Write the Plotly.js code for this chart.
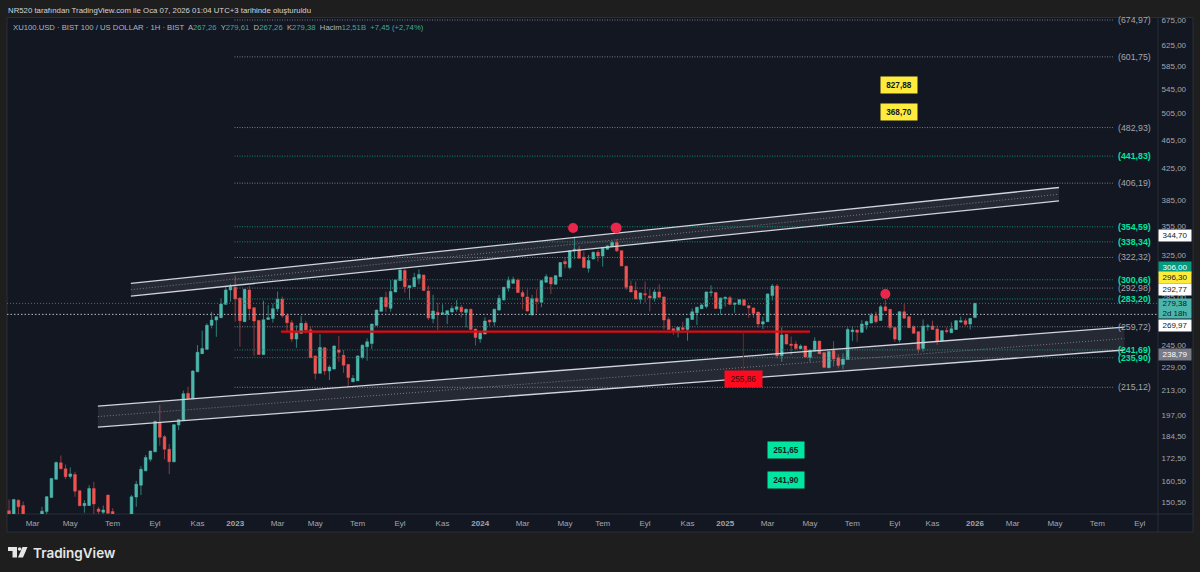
<!DOCTYPE html>
<html><head><meta charset="utf-8">
<script src="https://cdn.plot.ly/plotly-3.0.1.min.js"></script>
<style>html,body{margin:0;padding:0;background:#1e1e1e;overflow:hidden}#c{width:1200px;height:572px}</style>
</head><body><div id="c"></div>
<script>
const firstWeek = '2022-01-31';
const opens = [146.5,143,151.4,148.9,143,140,137,144.5,146.1,152.7,
161.6,170.1,166.9,163,164,155.9,148.8,148.9,157,147.3,
145.8,153.8,146.1,144,141,138,143,152.9,158.6,165.9,
171.9,176,192.7,184.4,177.4,170.6,191.3,194.3,211.1,207.6,
225.8,238.9,242.1,260.9,265.2,267.2,278.5,291.3,293.7,284.1,
263.9,291.3,275.6,264.9,238.2,265.7,266.6,274.8,283.2,269,
263.1,250,254.5,262.5,257.4,237.2,224.7,243.3,226.3,227.7,
241.6,237.7,231,218.9,219.6,236.1,244.1,246.6,260.9,272.5,
284.6,275.1,289.5,299.9,309.4,293.4,294.3,302,305.1,290.4,
266.3,271.6,270,270,271.9,274.2,276.1,271.6,274.2,257.9,
250,254,265.2,263.6,273.6,282.3,293.1,297.4,300.5,288.9,
285,269.4,283.8,280.3,298.4,302.9,296.5,303.6,318.2,312.3,
329,330.6,322.5,311.6,320.8,327.6,323.8,330.6,333.4,337.6,
329.2,313.6,294.9,290.7,282.9,287.9,285.9,283.8,289.5,285,
265.7,258.2,255.8,259,257.6,265.7,271.3,274.8,276.6,288.9,
288.9,274.8,283.5,284.4,278.5,278.5,282.6,277.4,275.4,271.9,
262,263.9,286.2,294.9,237.4,253.7,246.1,246.1,242.6,244.6,
236.1,240.9,248.4,239.6,228.7,241.4,235.9,231,234.7,255.8,
257.1,255.3,261.2,262.8,268.8,264.9,276.4,274.2,259.2,249.2,
272.2,268,259.8,255.8,242.8,259.8,260.4,257.9,248.4,256.8,
255,257.6,263.6,264.7,262,267.26];
const closes = [143,151.7,148.3,144,140,137,143,146.3,153,162,
170.2,166.9,162.8,164.3,155.7,148.8,149.9,157,149.6,146.1,
146.8,145.3,144,141,138,142,153,159.1,166.7,172.9,
176.4,193.4,184.2,177.4,170.6,191.5,194.5,210.9,207.6,226.3,
239.9,242.8,260.9,265.2,268,278.8,291.3,294.3,283.2,264.7,
291.9,274.8,264.4,238.3,265.5,267.2,274.8,283.2,268.8,263.1,
250,254.8,262.5,257.1,235.9,224.6,243.6,226.3,229.1,244.6,
239.9,230.5,221.8,221.2,237.2,245.3,247.9,261.9,273.6,284.6,
276.5,289.8,300.5,310,294.3,295.2,302.9,305.7,290.7,267,
272.8,269.7,271.3,273,275,276.4,272.2,274.2,257.6,251.3,
254.7,264.4,263.6,274.4,283.8,293.7,299.9,301.1,288.9,285.4,
272.8,283.5,280.9,299.9,303.6,296.8,304.5,317.2,315.9,329.2,
330.6,321.5,312.3,319.2,327.6,323.8,332.6,334.1,337.6,329,
313.9,293.7,289.5,283.2,288.6,286.9,284.1,289.5,284.7,265.2,
257.6,256.6,259.3,257.6,266.6,272.2,276,278,289.5,289.5,
275,284.1,284.7,278.5,279.7,282.6,277.7,275.4,270.8,262,
263.9,287.7,294.9,237.4,253.2,246.1,245.1,242.8,244.6,236.4,
241.6,248.4,238.9,228.9,240.4,234.9,230.3,234.9,257.6,257.1,
255.3,262,263.9,269.3,263.9,276.4,273,259.2,250,272.2,
266.8,259,254.5,242.1,260.4,260.4,257.6,248.4,256.6,255.8,
258.1,264.7,264.7,261.7,266.6,279.38];
const highs = [151.7,152,151.7,150.8,144,141,145,148.3,153.3,162.2,
170.8,174,169.2,167.6,165.4,156,151.4,158.6,160.3,148.3,
148.9,154,147.6,144.5,142,143,153.8,160.8,168.3,174.2,
176.5,194,203.5,185.4,180.3,192,195,212.9,215.5,227,
245.3,256.6,262.5,272.2,268.2,283.8,294.3,296.8,304.6,284.5,
292.2,294.9,276,265.2,281.7,277.9,279.4,289.8,285.3,270.7,
265.2,261,268.5,264.7,259.8,237.4,254,243.6,230.5,245.3,
252.3,241.6,231.2,223.5,237.4,245.5,250.5,262.1,273.9,285,
289.8,300.5,301,311,311.6,295.5,307.2,310.6,305.5,295.2,
286.9,280,278.5,273.2,277.5,282.3,278,275,275,258.1,
255.8,267.5,265.4,274.6,286.9,294,303.6,303.6,302,291.3,
291.9,286.9,291.9,300.2,306,303.1,305.1,317.5,322.5,329.5,
343.9,334.1,328.2,324.8,328.2,329.9,332.9,335.1,339.6,341.3,
329.5,313.9,299.9,299,288.8,299,291.9,291.9,296.5,285.3,
267.5,258.4,259.5,263.9,266.8,275,276.3,279.4,289.8,295.5,
289.2,284.3,285.4,286,279.9,282.9,282.9,277.6,275.6,272.1,
268,288,296.8,296.8,259.2,253.9,251.9,248.7,245.9,244.8,
241.8,251.4,248.6,239.8,240.6,248.4,238.6,239.1,259.2,259.8,
257.4,265.2,264.7,271.3,272.2,277.9,282.3,274.4,259.5,272.8,
278.8,268.2,261,256,265.7,262,264.7,260.9,256.8,259.2,
263.4,265.2,268,266.6,266.8,279.61];
const lows = [141,141,142,143,138,135,136,144,144.9,152.5,
161.4,166.7,161.6,161.9,153,148.6,145.6,148.7,145,144.9,
144.9,145,143,139,136,137,141,148.3,153.8,165.6,
170.6,175.8,179.3,171.9,164.2,170.4,188.3,194,207.4,207.4,
225.6,238.7,241.8,258.4,251.7,267,278.3,280.8,263.9,244.1,
263.7,265.2,237.4,238,238,265.5,263.1,272.2,267.1,255.8,
247.9,243.3,254.3,254.5,235.7,220.5,224.5,223.5,220,227.5,
233,225.1,215.5,218.7,219.4,234.7,233.7,242.4,260.7,272,
272.2,272.2,289.2,299.7,288.9,282.3,294.1,296.5,290.5,265.2,
262.5,257.1,269.8,261.9,271.7,272.2,267.2,259.3,257.4,244.9,
247.1,253.8,260.4,260.4,273.4,282.1,289.9,297.2,288.7,274.2,
272.2,269.2,271.3,276,298.2,287.6,296.3,303.4,311.6,310.6,
320.5,321.2,312,307.5,320.5,318.2,313.2,330.4,333.2,327.6,
313.7,291.3,289.3,283,278.8,280,272.5,280.9,284.5,257.6,
257.1,253.2,251.3,257.4,248.7,265.5,261.2,274.6,275,285.4,
274.8,269.7,276.6,278.3,271.3,278.3,277.5,267.1,267.1,259.2,
257.9,263.7,281.7,235.4,233,245.9,238,241.6,242.4,236.2,
233,240.7,238.7,228.7,228.2,229.5,228.2,227.7,234.5,248.4,
247.9,255.1,257.6,262.5,262.5,264.7,272.8,257.1,247.9,247.4,
266.6,258.8,254.3,239.6,240.4,256.6,257.4,245.3,247.9,254.5,
254.8,257.4,263.1,260.4,257.6,267.26];

const priceTicks = [675,625,585,545,505,465,425,385,355,325,285,245,229,213,197,184.5,172.5,160.5,150.5];
const monthDates = ['2022-03-07','2022-05-02','2022-07-04','2022-09-05','2022-11-07','2023-01-02','2023-03-06','2023-05-01','2023-07-03','2023-09-04','2023-11-06','2024-01-01','2024-03-04','2024-05-06','2024-07-01','2024-09-02','2024-11-04','2024-12-30','2025-03-03','2025-05-05','2025-07-07','2025-09-08','2025-11-03','2026-01-05','2026-03-02','2026-05-04','2026-07-06','2026-09-07'];
const monthLabels = ['Mar','May','Tem','Eyl','Kas','2023','Mar','May','Tem','Eyl','Kas','2024','Mar','May','Tem','Eyl','Kas','2025','Mar','May','Tem','Eyl','Kas','2026','Mar','May','Tem','Eyl'];

const grayLevels = [674.97,601.75,482.93,406.19,322.32,292.98,259.72,215.12];
const greenLevels = [441.83,354.59,338.34,300.66,283.20,241.69,235.90];
const levelSpan = ['2023-01-01','2026-07-29'];
const levelLabelDate = '2026-08-02';

const upperChannelX = ['2022-07-31','2026-05-10'];
const upperChannelTop = [297.4,400.7];
const upperChannelBottom = [285.8,384.3];
const lowerChannelX = ['2022-06-12','2026-08-15'];
const lowerChannelTop = [202.9,259.5];
const lowerChannelBottom = [190.1,241.6];

const redLevel = 255.86;
const redSpan = ['2023-03-11','2025-05-05'];
const redMarkX = '2025-01-26';
const redMarkY = 220.7;
const dotDates = ['2024-05-18','2024-07-21','2025-08-25'];
const dotValues = [353.3,353.3,287.6];
const dotSizes = [10,11,10];

const noteDates = ['2025-09-14','2025-09-14','2025-03-30','2025-03-30'];
const noteValues = [551.4,507,176.9,161.1];
const noteTexts = ['827,88','368,70','251,65','241,90'];
const noteColors = ['#ffeb3b','#ffeb3b','#00e6a0','#00e6a0'];

const sideValues = [344.70,306.00,296.30,292.77,279.38,269.97,238.79];
const sideTexts = ['344,70','306,00','296,30','292,77','279,38<br>2d 18h','269,97','238,79'];
const sideBg = ['#ffffff','#089981','#ffeb3b','#ffffff','#4db6ac','#ffffff','#787b86'];
const sideFg = ['#131722','#ffffff','#131722','#131722','#131722','#131722','#ffffff'];
const sideShift = [0,7,7,-1,-5.5,-10.7,-1];

const closeLine = 279.38;
const whiteLine = 269.97;
const fullSpan = ['2022-01-28','2026-10-04'];

const fmt = v => v.toFixed(2).replace('.', ',');
const dates = opens.map((_, i) => { const d = new Date(firstWeek + 'T00:00:00Z'); d.setUTCDate(d.getUTCDate() + 7 * i); return d.toISOString().slice(0, 10); });

const TEAL = '#4db6ac', RED = '#ef5350', TEALW = '#2f7f78', REDW = '#8c3a40';
const FONT = '"Liberation Sans", Arial, sans-serif';
const traces = [];
traces.push({type:'candlestick',x:dates,open:opens,high:highs,low:lows,close:closes,hoverinfo:'skip',showlegend:false,
  increasing:{line:{color:TEALW,width:1},fillcolor:TEALW},decreasing:{line:{color:REDW,width:1},fillcolor:REDW}});
traces.push({type:'candlestick',x:dates,open:opens,close:closes,
  high:opens.map((o,i)=>Math.max(o,closes[i])),low:opens.map((o,i)=>Math.min(o,closes[i])),hoverinfo:'skip',showlegend:false,
  increasing:{line:{color:TEAL,width:0},fillcolor:TEAL},decreasing:{line:{color:RED,width:0},fillcolor:RED}});

function line(x,y,color,width,dash){traces.push({type:'scatter',mode:'lines',x,y,line:{color,width,dash:dash||'solid'},hoverinfo:'skip',showlegend:false});}
function band(x,top,bot){
  traces.push({type:'scatter',mode:'lines',x:[x[0],x[1],x[1],x[0],x[0]],y:[top[0],top[1],bot[1],bot[0],top[0]],fill:'toself',fillcolor:'rgba(200,205,220,0.1)',line:{width:0},hoverinfo:'skip',showlegend:false});
  line(x,[Math.sqrt(top[0]*bot[0]),Math.sqrt(top[1]*bot[1])],'#787b86',1,'1px,2px');
  line(x,top,'#d1d4dc',1.3);
  line(x,bot,'#d1d4dc',1.3);
}
grayLevels.forEach(v=>line(levelSpan,[v,v],'#787b86',1,'1px,1.5px'));
greenLevels.forEach(v=>line(levelSpan,[v,v],'#0f8a6c',1,'1px,1.5px'));
line(fullSpan,[closeLine,closeLine],'#2a7f78',1,'1px,2px');
line(fullSpan,[whiteLine,whiteLine],'#b8bbc4',1,'1.5px,2px');
band(upperChannelX,upperChannelTop,upperChannelBottom);
band(lowerChannelX,lowerChannelTop,lowerChannelBottom);
line(redSpan,[redLevel,redLevel],'#e00b12',2.2);
line([redMarkX,redMarkX],[redLevel,redMarkY],'#a01018',1);
traces.push({type:'scatter',mode:'markers',x:dotDates,y:dotValues,marker:{color:'#e8274b',size:dotSizes,opacity:1,line:{width:0}},hoverinfo:'skip',showlegend:false});

const ann = [];
const L = Math.log10;
const px = p => (p-7)/1151, py = p => 1-(p-18)/496;
grayLevels.forEach(v=>ann.push({x:levelLabelDate,y:L(v),xref:'x',yref:'y',xanchor:'left',yanchor:'middle',text:'('+fmt(v)+')',showarrow:false,font:{family:FONT,size:8.8,color:'#a3a6af'}}));
greenLevels.forEach(v=>ann.push({x:levelLabelDate,y:L(v),xref:'x',yref:'y',xanchor:'left',yanchor:'middle',text:'<b>('+fmt(v)+')</b>',showarrow:false,font:{family:FONT,size:8.8,color:'#00e6a0'}}));
noteTexts.forEach((t,i)=>ann.push({x:noteDates[i],y:L(noteValues[i]),xref:'x',yref:'y',xanchor:'center',yanchor:'middle',text:'<b>'+t+'</b>',showarrow:false,bgcolor:noteColors[i],width:34,height:14,font:{family:FONT,size:8.2,color:'#131722'}}));
ann.push({x:redMarkX,y:L(redMarkY),xref:'x',yref:'y',xanchor:'center',yanchor:'middle',text:fmt(redLevel),showarrow:false,bgcolor:'#ff0a1e',width:35,height:14,font:{family:FONT,size:8.2,color:'#3a0a10'}});
sideValues.forEach((v,i)=>ann.push({xref:'paper',yref:'y',x:px(1175),xanchor:'center',yanchor:'middle',y:L(v),yshift:sideShift[i],text:sideTexts[i],showarrow:false,bgcolor:sideBg[i],width:32,height:i===4?19:10.5,align:'center',borderpad:0,font:{family:FONT,size:8,color:sideFg[i]}}));
const G='#b2b5be',T='#3fa99a';
ann.push({xref:'paper',yref:'paper',x:px(6),y:py(10),xanchor:'left',yanchor:'middle',showarrow:false,text:'NR520 tarafından TradingView.com ile Oca 07, 2026 01:04 UTC+3 tarihinde oluşturuldu',font:{family:FONT,size:7.8,color:'#d1d4dc'}});
ann.push({xref:'paper',yref:'paper',x:px(11),y:py(27),xanchor:'left',yanchor:'middle',showarrow:false,font:{family:FONT,size:7.7,color:G},
  text:'XU100.USD · BIST 100 / US DOLLAR · 1H · BIST  A<span style="color:'+T+'">267,26</span>  Y<span style="color:'+T+'">279,61</span>  D<span style="color:'+T+'">267,26</span>  K<span style="color:'+T+'">279,38</span>  Hacim<span style="color:'+T+'">12,51B</span>  <span style="color:'+T+'">+7,45 (+2,74%)</span>'});
ann.push({xref:'paper',yref:'paper',x:px(31),y:py(553),xanchor:'left',yanchor:'middle',showarrow:false,text:'TradingView',font:{family:'Inter, "Liberation Sans", sans-serif',size:13.5,color:'#e6e6e6',weight:600}});

const shapes = [
 {type:'rect',xref:'paper',yref:'paper',x0:px(7),x1:px(1193),y0:py(532),y1:py(17.5),fillcolor:'#131722',line:{color:'#2a2e39',width:1},layer:'below'},
 {type:'line',xref:'paper',yref:'paper',x0:px(1158),x1:px(1158),y0:py(532),y1:py(17.5),line:{color:'#2a2e39',width:1},layer:'below'},
 {type:'line',xref:'paper',yref:'paper',x0:px(7),x1:px(1193),y0:py(514),y1:py(514),line:{color:'#2a2e39',width:1},layer:'below'}
];
function pathPx(pts,close){return pts.map((p,i)=>(i?'L':'M')+px(p[0])+','+py(p[1])).join(' ')+(close?' Z':'');}
const logoFill={xref:'paper',yref:'paper',type:'path',fillcolor:'#e6e6e6',line:{width:0},layer:'above'};
shapes.push(Object.assign({},logoFill,{path:pathPx([[8,547],[17,547],[17,557.5],[12.5,557.5],[12.5,551],[8,551]],true)}));
shapes.push(Object.assign({},logoFill,{path:pathPx([[22.5,547],[27.5,547],[23,557.5],[18,557.5]],true)}));
shapes.push({type:'circle',xref:'paper',yref:'paper',x0:px(17.8),x1:px(21.4),y0:py(550.8),y1:py(547.2),fillcolor:'#e6e6e6',line:{width:0},layer:'above'});

const layout = {width:1200,height:572,autosize:false,paper_bgcolor:'#1e1e1e',plot_bgcolor:'rgba(0,0,0,0)',showlegend:false,boxgap:0.2,boxmode:'overlay',
 margin:{l:7,r:42,t:18,b:58,pad:0},dragmode:false,
 xaxis:{type:'date',range:fullSpan,rangeslider:{visible:false},showgrid:false,zeroline:false,tickmode:'array',tickvals:monthDates,
   ticktext:monthLabels.map(t=>/^20/.test(t)?'<b>'+t+'</b>':t),ticks:'outside',ticklen:1,tickcolor:'rgba(0,0,0,0)',tickfont:{family:FONT,size:8,color:'#a3a6af'},showline:false},
 yaxis:{type:'log',side:'right',range:[2.1614,2.832],showgrid:false,zeroline:false,tickmode:'array',tickvals:priceTicks,ticktext:priceTicks.map(fmt),ticks:'outside',ticklen:1,tickcolor:'rgba(0,0,0,0)',tickfont:{family:FONT,size:8,color:'#a3a6af'},showline:false},
 annotations:ann,shapes};
Plotly.newPlot('c',traces,layout,{staticPlot:true,displayModeBar:false});
</script></body></html>
